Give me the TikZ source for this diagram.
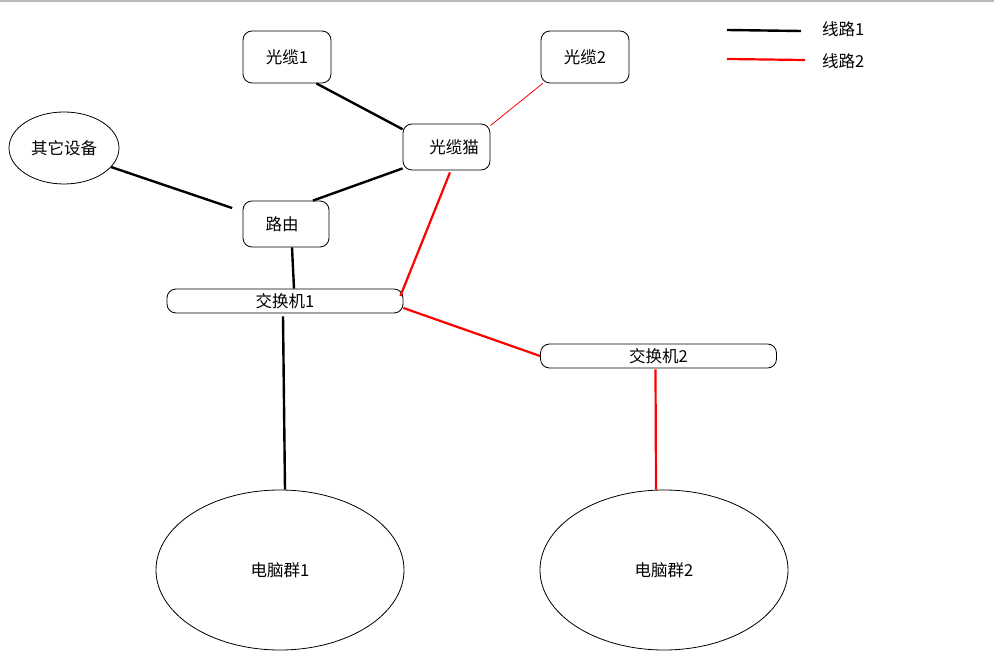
\documentclass[tikz,border=0pt]{standalone}
\usepackage{fontspec}
\newfontfamily\cjk{Noto Sans CJK SC}
\usetikzlibrary{shapes.geometric}

\begin{document}
\begin{tikzpicture}[
        x=1pt, y=-1pt,
        every node/.style={font=\cjk\fontsize{16.5}{19}\selectfont, inner sep=0pt},
        devbox/.style={rectangle, draw=black, fill=white, rounded corners=9pt, line width=0.8pt},
        switchbar/.style={rectangle, draw=black, fill=white, rounded corners=9pt, line width=0.8pt, minimum width=236pt, minimum height=24pt},
        cloud/.style={ellipse, draw=black, fill=white, line width=0.8pt},
        line1/.style={draw=black, line width=2.4pt},
        line2/.style={draw=red, line width=2.2pt},
        line2thin/.style={draw=red, line width=0.8pt}
        ]

        \useasboundingbox (0,0) rectangle (994,668);
        \draw[black!27, line width=1.6pt] (0,0.8) -- (994,0.8);

        % Devices
        \node[devbox, minimum width=88pt, minimum height=52pt] (cable1) at (287,57) {光缆1};
        \node[devbox, minimum width=88pt, minimum height=52pt] (cable2) at (585,57) {光缆2};
        \node[devbox, minimum width=87pt, minimum height=46pt] (modem) at (446.5,147) {\hspace*{15pt}光缆猫};
        \node[devbox, minimum width=86pt, minimum height=46pt] (router) at (286,224) {\hspace*{-8pt}路由};
        \node[cloud, minimum width=110pt, minimum height=72pt] (other) at (64,148) {其它设备};

        % Switches
        \node[switchbar] (sw1) at (285,301) {交换机1};
        \node[switchbar] (sw2) at (658.5,356) {交换机2};

        % Computer groups
        \node[cloud, minimum width=248pt, minimum height=160pt] (pc1) at (280,570) {电脑群1};
        \node[cloud, minimum width=248pt, minimum height=160pt] (pc2) at (664,570) {电脑群2};

        % Legend
        \node[anchor=west] (lg1) at (822,29) {线路1};
        \node[anchor=west] (lg2) at (822,61) {线路2};
        \coordinate (k1a) at (727,30);
        \coordinate (k1b) at (801,31);
        \coordinate (k2a) at (727,59);
        \coordinate (k2b) at (805,60);
        \draw[line1] (k1a) -- (k1b);
        \draw[line2] (k2a) -- (k2b);

        % Line 1
        \draw[line1] (cable1.-42) -- (modem.158);
        \draw[line1] (modem.206) -- (router.41);
        \draw[line1, shorten >=11pt] (other.-22) -- (router.164);
        \draw[line1] ([xshift=6pt]router.south) -- ([xshift=9pt]sw1.north);
        \draw[line1] ([xshift=-2pt, yshift=-3pt]sw1.south) -- ([xshift=5pt]pc1.north);

        % Line 2
        \draw[line2thin] (cable2.212) -- (modem.26);
        \draw[line2] ([xshift=3.5pt, yshift=-2pt]modem.south) -- ([xshift=-3pt, yshift=5pt]sw1.east);
        \draw[line2] ([yshift=-7pt]sw1.east) -- (sw2.west);
        \draw[line2] ([xshift=-3pt, yshift=-1pt]sw2.south) -- ([xshift=-8pt]pc2.north);

    \end{tikzpicture}
\end{document}
